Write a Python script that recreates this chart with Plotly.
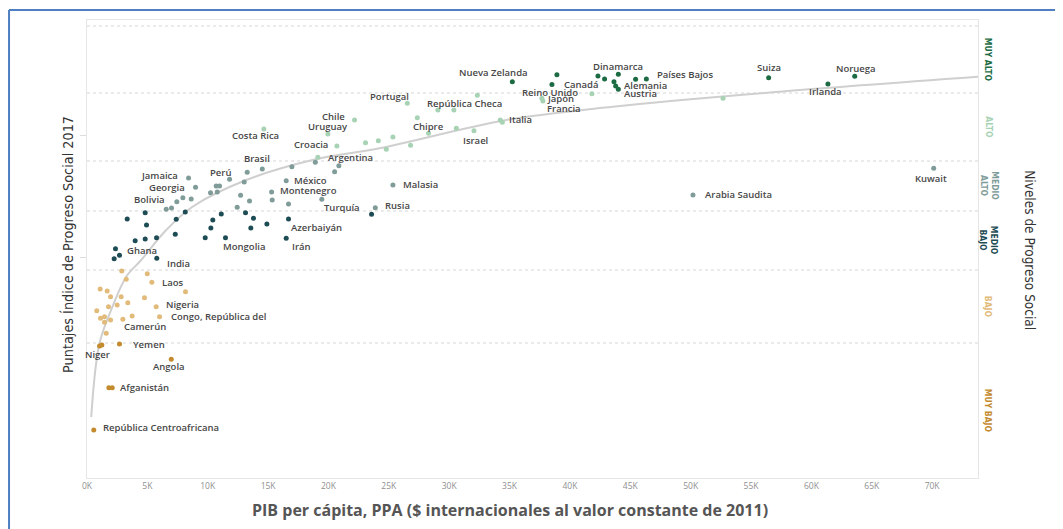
import plotly.graph_objects as go

# ---------------- DATA ----------------
# x: PIB per cápita (miles de $), y: puntaje IPS
muy_alto_x = [35.23, 38.92, 38.51, 42.32, 42.87, 44.01, 43.65, 43.79, 44.01, 45.44, 46.33, 56.46, 61.37, 63.59]
muy_alto_y = [88.9, 90.2, 88.4, 89.95, 89.4, 90.26, 88.9, 88.14, 87.54, 89.35, 89.4, 89.64, 88.5, 89.9]
muy_alto_n = ["Nueva Zelanda", "", "Reino Unido", "", "Canadá", "Dinamarca", "Alemania", "", "Austria", "", "Países Bajos", "Suiza", "Irlanda", "Noruega"]

alto_x = [32.33, 26.53, 29.06, 30.39, 27.36, 30.59, 32.05, 22.16, 19.95, 14.65, 20.7, 23.07, 24.13, 25.34, 24.79, 26.8, 28.29, 34.23, 34.4, 37.68, 37.76, 41.82, 52.68, 19.12]
alto_y = [86.45, 85.0, 83.8, 83.8, 82.4, 80.47, 80.04, 81.98, 79.44, 80.35, 77.27, 77.86, 78.23, 78.9, 76.67, 77.39, 79.57, 81.98, 81.56, 85.91, 85.42, 86.74, 85.91, 75.22]
alto_n = ["", "Portugal", "", "República Checa", "", "", "Israel", "Chile", "Uruguay", "Costa Rica", "Croacia", "", "", "", "", "", "Chipre", "Italia", "", "Japón", "Francia", "", "", "Argentina"]

medio_alto_x = [8.41, 8.99, 10.7, 10.98, 10.23, 10.79, 11.81, 13.02, 13.27, 14.52, 12.72, 13.46, 12.44, 7.44, 7.94, 8.63, 6.56, 7.0, 16.5, 15.29, 15.34, 16.69, 19.45, 20.51, 20.86, 18.91, 16.97, 25.34, 23.88, 50.19, 70.13]
medio_alto_y = [71.47, 69.78, 70.02, 70.02, 68.8, 68.93, 71.23, 70.74, 72.5, 73.1, 68.33, 67.3, 66.16, 67.17, 67.9, 67.66, 65.79, 66.03, 70.98, 68.93, 67.48, 66.75, 67.61, 72.61, 73.7, 74.31, 73.51, 70.2, 66.08, 68.39, 73.22]
medio_alto_n = ["Jamaica", "Georgia", "", "", "", "", "Perú", "", "", "Brasil", "", "", "", "Bolivia", "", "", "", "", "México", "Montenegro", "", "", "Turquía", "", "", "", "", "Malasia", "Rusia", "Arabia Saudita", "Kuwait"]

medio_bajo_x = [3.33, 4.82, 8.14, 7.39, 4.93, 11.12, 10.42, 13.13, 13.79, 14.9, 16.69, 10.26, 13.57, 5.76, 4.82, 3.99, 7.31, 9.79, 11.47, 16.5, 23.57, 2.36, 2.69, 2.25, 5.78]
medio_bajo_y = [64.04, 65.18, 65.3, 63.98, 62.95, 64.94, 63.85, 65.18, 64.16, 63.13, 64.04, 62.41, 62.41, 60.65, 60.41, 60.1, 61.26, 60.65, 60.65, 60.54, 64.89, 58.65, 57.46, 56.84, 56.91]
medio_bajo_n = ["", "", "", "", "", "", "", "", "", "", "Azerbaiyán", "", "", "", "", "", "", "", "Mongolia", "Irán", "", "", "Ghana", "", "India"]

bajo_x = [2.88, 4.99, 3.25, 5.37, 1.09, 1.67, 8.16, 1.95, 2.83, 4.76, 3.38, 2.5, 1.78, 5.73, 0.81, 1.45, 1.12, 1.95, 2.97, 3.74, 6.01, 1.45, 1.59]
bajo_y = [54.61, 54.12, 53.11, 52.56, 51.35, 50.99, 50.86, 49.96, 49.96, 49.78, 48.87, 48.45, 48.14, 48.14, 47.42, 46.33, 46.04, 45.73, 45.86, 46.46, 46.33, 45.32, 43.32]
bajo_n = ["", "", "", "Laos", "", "", "", "", "", "", "", "", "", "Nigeria", "", "", "", "", "Camerún", "", "Congo, República del", "", ""]

muy_bajo_x = [1.04, 1.23, 2.69, 6.98, 1.81, 2.09, 0.56]
muy_bajo_y = [41.02, 41.2, 41.38, 38.61, 33.46, 33.46, 25.8]
muy_bajo_n = ["Niger", "", "Yemen", "Angola", "", "Afganistán", "República Centroafricana"]

# trend line
trend_x = [0.35, 1.04, 2.11, 3.25, 4.49, 6.56, 8.74, 13.19, 18.68, 24.23, 34.73, 43.54, 57.37, 73.81]
trend_y = [28.15, 41.56, 48.14, 53.58, 56.61, 62.04, 66.26, 71.1, 74.73, 76.85, 81.98, 84.39, 87.11, 89.82]

# band limits (score) and band names, top to bottom
band_limits = [99.01, 86.87, 74.55, 65.49, 54.79, 41.56]
band_names = ["MUY ALTO", "ALTO", "MEDIO<br>ALTO", "MEDIO<br>BAJO", "BAJO", "MUY BAJO"]

x_tickvals = [0, 5, 10, 15, 20, 25, 30, 35, 40, 45, 50, 55, 60, 65, 70]
x_ticktext = ["0K", "5K", "10K", "15K", "20K", "25K", "30K", "35K", "40K", "45K", "50K", "55K", "60K", "65K", "70K"]

x_title = "PIB per cápita, PPA ($ internacionales al valor constante de 2011)"
y_title = "Puntajes Índice de Progreso Social 2017"
right_title = "Niveles de Progreso Social"

# ---------------- STYLE ----------------
band_colors = ["#1c6b43", "#a7d3b4", "#7f9c99", "#1e4c55", "#e2bb7b", "#c48a2e"]
X_RANGE = [0, 73.8]
Y_RANGE = [17.1, 100.1]
LABEL_FONT = dict(family="Open Sans, Liberation Sans, sans-serif", size=9.5, color="#474747", weight=600)
COND = "Liberation Sans Narrow, DejaVu Sans Condensed, Roboto, sans-serif"

# label placement: name -> (xanchor, xshift px, yshift px)
label_place = {
    "Nueva Zelanda": ("right", 18, 9), "Reino Unido": ("center", -2, -8), "Canadá": ("right", -4, -5),
    "Dinamarca": ("center", 0, 8), "Alemania": ("left", 8, -4), "Austria": ("left", 4, -4),
    "Países Bajos": ("left", 9, 5), "Suiza": ("center", 0, 10), "Irlanda": ("center", -2, -7),
    "Noruega": ("center", 1, 8),
    "Portugal": ("right", 4, 7), "República Checa": ("center", 11, 6), "Chipre": ("center", 0, 7),
    "Italia": ("left", 7, 0), "Israel": ("center", 2, -10), "Japón": ("left", 3, 0),
    "Francia": ("left", 2, -7), "Chile": ("right", -8, 3), "Uruguay": ("center", 0, 8),
    "Costa Rica": ("center", -8, -7), "Croacia": ("right", -7, 1), "Argentina": ("left", 8, 0),
    "Jamaica": ("right", -9, 2), "Georgia": ("right", -9, 0), "Bolivia": ("right", -10, 2),
    "Perú": ("center", -9, 7), "Brasil": ("center", -5, 10), "México": ("left", 6, 0),
    "Montenegro": ("left", 6, 2), "Turquía": ("left", 0, -8), "Malasia": ("left", 8, 0),
    "Rusia": ("left", 8, 2), "Arabia Saudita": ("left", 10, 0), "Kuwait": ("center", -3, -10),
    "Azerbaiyán": ("left", 0, -9), "Irán": ("left", 4, -8), "Mongolia": ("left", -4, -9),
    "Ghana": ("left", 6, 5), "India": ("left", 8, -5),
    "Laos": ("left", 8, 0), "Nigeria": ("left", 8, 2), "Congo, República del": ("left", 9, 0),
    "Camerún": ("left", -1, -7),
    "Niger": ("center", -2, -8), "Yemen": ("left", 12, 0), "Angola": ("center", -2, -7),
    "Afganistán": ("left", 6, 0), "República Centroafricana": ("left", 7, 2),
}

series = [
    (muy_alto_x, muy_alto_y, muy_alto_n),
    (alto_x, alto_y, alto_n),
    (medio_alto_x, medio_alto_y, medio_alto_n),
    (medio_bajo_x, medio_bajo_y, medio_bajo_n),
    (bajo_x, bajo_y, bajo_n),
    (muy_bajo_x, muy_bajo_y, muy_bajo_n),
]

fig = go.Figure()

# trend line
fig.add_trace(go.Scatter(x=trend_x, y=trend_y, mode="lines",
                         line=dict(color="#cfcfcf", width=2, shape="spline", smoothing=1.0),
                         hoverinfo="skip", showlegend=False))

annotations = []
for (xs, ys, ns), col, bname in zip(series, band_colors, band_names):
    fig.add_trace(go.Scatter(x=xs, y=ys, mode="markers", name=bname.replace("<br>", " "),
                             marker=dict(color=col, size=5, line=dict(width=0)),
                             text=ns, showlegend=False))
    for x, y, n in zip(xs, ys, ns):
        if n:
            xa, dx, dy = label_place[n]
            annotations.append(dict(x=x, y=y, xref="x", yref="y", text=n, showarrow=False,
                                    xanchor=xa, yanchor="middle", xshift=dx, yshift=dy,
                                    font=LABEL_FONT))

# band gridlines
shapes = []
for lim in band_limits:
    shapes.append(dict(type="line", xref="paper", yref="y", x0=0, x1=1, y0=lim, y1=lim,
                       line=dict(color="#d6d6d6", width=1, dash="dot"), layer="below"))

# band labels on the right
lims = band_limits + [Y_RANGE[0]]
for i, (bn, col) in enumerate(zip(band_names, band_colors)):
    mid = (lims[i] + lims[i + 1]) / 2
    annotations.append(dict(x=1.012, y=mid, xref="paper", yref="y", text="<b>" + bn + "</b>",
                            showarrow=False, textangle=90, xanchor="center", yanchor="middle",
                            font=dict(family=COND, size=8.5, color=col)))

# titles as paper annotations (fixed positions)
annotations.append(dict(x=1.058, y=0.498, xref="paper", yref="paper", text=right_title,
                        showarrow=False, textangle=90, xanchor="center", yanchor="middle",
                        font=dict(family=COND, size=13.5, color="#333333")))
annotations.append(dict(x=-0.0213, y=0.509, xref="paper", yref="paper", text=y_title,
                        showarrow=False, textangle=-90, xanchor="center", yanchor="middle",
                        font=dict(family=COND, size=14.3, color="#333333")))
annotations.append(dict(x=0.475, y=-0.07, xref="paper", yref="paper", text="<b>" + x_title + "</b>",
                        showarrow=False, xanchor="center", yanchor="middle",
                        font=dict(family="Open Sans, sans-serif", size=16, color="#555555")))

# blue frame (cut by the picture edge)
blue = dict(color="#4f7fc0", width=2)
shapes.append(dict(type="line", xref="paper", yref="paper", x0=-0.0875, x1=1.2, y0=1.022, y1=1.022, line=blue))
shapes.append(dict(type="line", xref="paper", yref="paper", x0=-0.0875, x1=-0.0875, y0=1.022, y1=-0.2, line=blue))

# the page body adds an 8px offset, so the figure is 8px smaller than the window
fig.update_layout(
    width=1055, height=521,
    margin=dict(l=79, r=85, t=12, b=51, autoexpand=False),
    paper_bgcolor="white", plot_bgcolor="white",
    showlegend=False,
    shapes=shapes, annotations=annotations,
    xaxis=dict(range=X_RANGE, tickvals=x_tickvals, ticktext=x_ticktext, showgrid=False, zeroline=False,
               showline=True, linecolor="#e6e6e6", linewidth=1, mirror=True, ticks="", automargin=False,
               tickfont=dict(family="Open Sans, sans-serif", size=8.5, color="#8f8f8f")),
    yaxis=dict(range=Y_RANGE, showgrid=False, zeroline=False, showticklabels=False, automargin=False,
               showline=True, linecolor="#e6e6e6", linewidth=1, mirror=True,
               ticks="outside", tickvals=[79.26, 56.97], ticklen=6, tickcolor="#dddddd"),
)

fig.write_html("out.html")
